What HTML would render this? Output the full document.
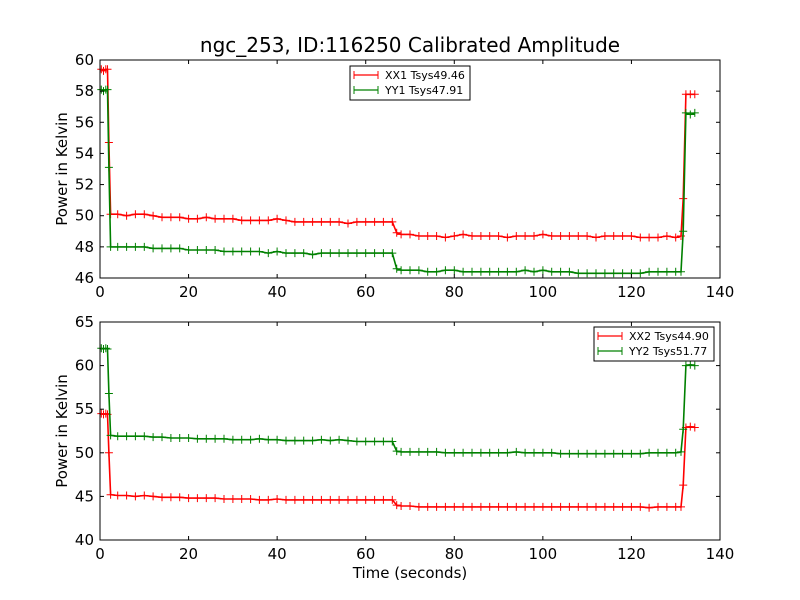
<!DOCTYPE html>
<html><head><meta charset="utf-8"><style>
html,body{margin:0;padding:0;background:#fff;}
svg{display:block;font-family:"DejaVu Sans","Liberation Sans",sans-serif;}
</style></head><body>
<svg id="chart" width="800" height="600"></svg>
<script>
const times=[0.3,0.8,1.3,1.7,2.0,2.4,4,6,8,10,12,14,16,18,20,22,24,26,28,30,32,34,36,38,40,42,44,46,48,50,52,54,56,58,60,62,64,66,67,68,70,72,74,76,78,80,82,84,86,88,90,92,94,96,98,100,102,104,106,108,110,112,114,116,118,120,122,124,126,128,130,131.2,131.7,132.3,133.3,134.3];
const xx1=[59.4,59.3,59.4,59.4,54.7,50.1,50.1,50.0,50.1,50.1,50.0,49.9,49.9,49.9,49.8,49.8,49.9,49.8,49.8,49.8,49.7,49.7,49.7,49.7,49.8,49.7,49.6,49.6,49.6,49.6,49.6,49.6,49.5,49.6,49.6,49.6,49.6,49.6,48.9,48.8,48.8,48.7,48.7,48.7,48.6,48.7,48.8,48.7,48.7,48.7,48.7,48.6,48.7,48.7,48.7,48.8,48.7,48.7,48.7,48.7,48.7,48.6,48.7,48.7,48.7,48.7,48.6,48.6,48.6,48.7,48.6,48.7,51.1,57.8,57.8,57.8];
const yy1=[58.1,58.0,58.1,58.1,53.1,48.0,48.0,48.0,48.0,48.0,47.9,47.9,47.9,47.9,47.8,47.8,47.8,47.8,47.7,47.7,47.7,47.7,47.7,47.6,47.7,47.6,47.6,47.6,47.5,47.6,47.6,47.6,47.6,47.6,47.6,47.6,47.6,47.6,46.6,46.5,46.5,46.5,46.4,46.4,46.5,46.5,46.4,46.4,46.4,46.4,46.4,46.4,46.4,46.5,46.4,46.5,46.4,46.4,46.4,46.3,46.3,46.3,46.3,46.3,46.3,46.3,46.3,46.4,46.4,46.4,46.4,46.4,49.0,56.6,56.5,56.6];
const xx2=[54.5,54.4,54.5,54.4,50.0,45.2,45.1,45.1,45.0,45.1,45.0,44.9,44.9,44.9,44.8,44.8,44.8,44.8,44.7,44.7,44.7,44.7,44.6,44.6,44.7,44.6,44.6,44.6,44.6,44.6,44.6,44.6,44.6,44.6,44.6,44.6,44.6,44.6,44.0,43.9,43.9,43.8,43.8,43.8,43.8,43.8,43.8,43.8,43.8,43.8,43.8,43.8,43.8,43.8,43.8,43.8,43.8,43.8,43.8,43.8,43.8,43.8,43.8,43.8,43.8,43.8,43.8,43.7,43.8,43.8,43.8,43.8,46.3,52.9,53.0,52.9];
const yy2=[62.0,61.9,62.0,61.9,56.8,52.0,51.9,51.9,51.9,51.9,51.8,51.8,51.7,51.7,51.7,51.6,51.6,51.6,51.6,51.5,51.5,51.5,51.6,51.5,51.5,51.4,51.4,51.4,51.4,51.5,51.4,51.5,51.4,51.3,51.3,51.3,51.3,51.3,50.2,50.1,50.1,50.1,50.1,50.1,50.0,50.0,50.0,50.0,50.0,50.0,50.0,50.0,50.1,50.0,50.0,50.0,50.0,49.9,49.9,49.9,49.9,49.9,49.9,49.9,49.9,49.9,49.9,50.0,50.0,50.0,50.0,50.1,52.7,60.0,60.1,60.0];
const xTicks=[0,20,40,60,80,100,120,140];
const yTicks1=[46,48,50,52,54,56,58,60];
const yTicks2=[40,45,50,55,60,65];
const legend1=["XX1 Tsys49.46","YY1 Tsys47.91"];
const legend2=["XX2 Tsys44.90","YY2 Tsys51.77"];

const NS="http://www.w3.org/2000/svg";
const svg=document.getElementById('chart');
function mk(tag,attrs,parent,text){const e=document.createElementNS(NS,tag);for(const k in attrs)e.setAttribute(k,attrs[k]);if(text!==undefined)e.textContent=text;(parent||svg).appendChild(e);return e;}

function panel(name,top,bottom,ymin,ymax,yTicks,series,legendLabels,legBox){
  const L=100,R=720;
  const g=mk('g',{});
  
  
  const xs=v=>L+(v-0)/(140-0)*(R-L);
  const ys=v=>bottom-(v-ymin)/(ymax-ymin)*(bottom-top);
  series.forEach(s=>{
    const sg=mk('g',{},g);
    
    
    let d='';
    times.forEach((t,i)=>{d+=(i?'L':'M')+xs(t).toFixed(1)+' '+ys(s.vals[i]).toFixed(1);});
    mk('path',{d:d,fill:'none',stroke:s.color,'stroke-width':1.6},sg);
    let m='';
    times.forEach((t,i)=>{const x=xs(t),y=ys(s.vals[i]);m+=`M${(x-4).toFixed(1)} ${y.toFixed(1)}h8M${x.toFixed(1)} ${(y-4).toFixed(1)}v8`;});
    mk('path',{d:m,fill:'none',stroke:s.color,'stroke-width':1},sg);
  });
  const fr=mk('rect',{x:L,y:top,width:R-L,height:bottom-top,fill:'none',stroke:'#000','stroke-width':1},g);
  
  
  const xa=mk('g',{},g);
  
  
  xTicks.forEach(t=>{const x=xs(t);
    mk('line',{x1:x,x2:x,y1:bottom,y2:bottom-4,stroke:'#000'},xa);
    mk('line',{x1:x,x2:x,y1:top,y2:top+4,stroke:'#000'},xa);
    mk('text',{x:x,y:bottom+19,'text-anchor':'middle','font-size':15},xa,String(t));});
  const ya=mk('g',{},g);
  
  
  yTicks.forEach(t=>{const y=ys(t);
    mk('line',{x1:L,x2:L+4,y1:y,y2:y,stroke:'#000'},ya);
    mk('line',{x1:R,x2:R-4,y1:y,y2:y,stroke:'#000'},ya);
    mk('text',{x:L-6,y:y+5,'text-anchor':'end','font-size':15},ya,String(t));});
  const yl=mk('text',{x:0,y:0,'text-anchor':'middle','font-size':15,transform:`translate(67,${(top+bottom)/2}) rotate(-90)`},g,'Power in Kelvin');
  
  
  const lg=mk('g',{},g);
  
  
  mk('rect',{x:legBox[0],y:legBox[1],width:120,height:34,fill:'#fff',stroke:'#000'},lg);
  legendLabels.forEach((lab,i)=>{
    const eg=mk('g',{},lg);
    
    
    const y=legBox[1]+9+i*15;
    const x0=legBox[0]+4;
    mk('line',{x1:x0,x2:x0+24,y1:y,y2:y,stroke:series[i].color,'stroke-width':1.2},eg);
    mk('path',{d:`M${x0} ${y-4}v8M${x0+24} ${y-4}v8`,stroke:series[i].color},eg);
    mk('text',{x:x0+31,y:y+4,'font-size':11},eg,lab);
  });
}
const t=mk('text',{x:410,y:52,'text-anchor':'middle','font-size':20},svg,'ngc_253, ID:116250 Calibrated Amplitude');


panel('top-panel',60,278,46,60,yTicks1,[{name:'xx1-line',vals:xx1,color:'#ff0000'},{name:'yy1-line',vals:yy1,color:'#008000'}],legend1,[350,66]);
panel('bottom-panel',322,540,40,65,yTicks2,[{name:'xx2-line',vals:xx2,color:'#ff0000'},{name:'yy2-line',vals:yy2,color:'#008000'}],legend2,[594,327]);
const xt=mk('text',{x:410,y:578,'text-anchor':'middle','font-size':15},svg,'Time (seconds)');


</script>
</body></html>
